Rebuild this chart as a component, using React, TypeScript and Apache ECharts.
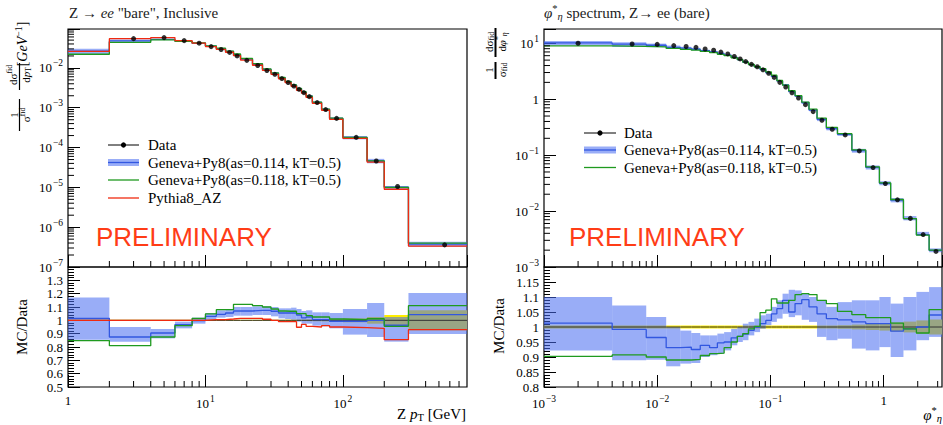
import React, { useEffect, useRef } from "react";
import * as echarts from "echarts";

const SERIF = "'Liberation Serif', 'DejaVu Serif', serif";
const SANS = "'Liberation Sans', Arial, sans-serif";

// ---------------- Left panel: Z pT ----------------
const ptEdges = [0, 2, 4, 6, 8, 10, 12, 14, 16, 18, 22, 26, 30, 34, 38, 42, 46, 50, 54, 60, 70, 80, 100, 150, 200, 300, 800];
const ptData = [0.026, 0.0544, 0.0577, 0.0485, 0.0418, 0.0343, 0.029, 0.0245, 0.02, 0.0155, 0.0115, 0.0086, 0.0069, 0.0054, 0.0043, 0.0035, 0.0029, 0.0024, 0.0019, 0.00135, 0.0009, 0.00054, 0.00018, 4.6e-5, 1.05e-5, 3.6e-7];
const ptRatio114 = [1.015, 0.875, 0.905, 0.968, 0.998, 1.03, 1.045, 1.055, 1.07, 1.07, 1.075, 1.075, 1.068, 1.055, 1.055, 1.055, 1.04, 1.018, 1.025, 1.005, 1.005, 0.993, 0.993, 1.0, 0.963, 1.043];
const ptBand114Lo = [0.855, 0.84, 0.865, 0.94, 0.975, 1.005, 1.02, 1.025, 1.035, 1.035, 1.04, 1.04, 1.03, 1.015, 1.01, 1.005, 0.99, 0.975, 0.975, 0.96, 0.955, 0.94, 0.893, 0.875, 0.84, 0.898];
const ptBand114Hi = [1.172, 0.95, 0.935, 0.99, 1.02, 1.055, 1.075, 1.085, 1.1, 1.1, 1.105, 1.105, 1.1, 1.09, 1.09, 1.095, 1.085, 1.07, 1.075, 1.06, 1.06, 1.055, 1.085, 1.13, 1.025, 1.205];
const ptRatio118 = [0.848, 0.81, 0.875, 0.96, 1.015, 1.048, 1.08, 1.08, 1.12, 1.12, 1.11, 1.1, 1.085, 1.07, 1.068, 1.068, 1.05, 1.05, 1.035, 1.025, 1.025, 1.01, 1.005, 1.012, 0.955, 1.11];
const ptRatioAZ = [1.0, 1.0, 1.0, 1.0, 1.0, 1.005, 1.005, 1.01, 1.015, 1.015, 1.015, 1.008, 1.0, 0.99, 0.99, 0.99, 0.948, 0.97, 0.955, 0.95, 0.96, 0.95, 0.945, 0.94, 0.855, 0.93];
const ptDataErr = [0.004, 0.004, 0.004, 0.004, 0.004, 0.004, 0.004, 0.004, 0.004, 0.004, 0.004, 0.004, 0.004, 0.004, 0.005, 0.005, 0.005, 0.005, 0.006, 0.007, 0.008, 0.01, 0.015, 0.025, 0.04, 0.075];

// ---------------- Right panel: phi*_eta ----------------
const phiEdges = [0, 0.004, 0.008, 0.012, 0.016, 0.02, 0.024, 0.029, 0.034, 0.039, 0.045, 0.051, 0.057, 0.064, 0.072, 0.081, 0.091, 0.102, 0.114, 0.128, 0.145, 0.165, 0.189, 0.219, 0.258, 0.312, 0.391, 0.524, 0.695, 0.918, 1.153, 1.496, 1.947, 2.522, 3.277];
const phiData = [10.0, 9.7, 9.55, 9.1, 8.75, 8.45, 7.9, 7.5, 6.95, 6.45, 5.8, 5.25, 4.7, 4.2, 3.8, 3.35, 2.9, 2.45, 2.0, 1.65, 1.3, 1.05, 0.8, 0.6, 0.42, 0.29, 0.23, 0.119, 0.06, 0.031, 0.0159, 0.0074, 0.0038, 0.0019];
const phiRatio114 = [1.013, 0.992, 0.965, 0.931, 0.933, 0.925, 0.939, 0.931, 0.947, 0.95, 0.964, 0.969, 0.976, 0.989, 1.0, 1.011, 1.022, 1.044, 1.061, 1.089, 1.05, 1.078, 1.091, 1.067, 1.044, 1.028, 1.024, 1.017, 1.011, 1.011, 0.986, 0.994, 1.0, 1.04];
const phiBand114Lo = [0.922, 0.889, 0.891, 0.869, 0.878, 0.88, 0.9, 0.906, 0.911, 0.922, 0.939, 0.95, 0.956, 0.972, 0.983, 0.994, 1.006, 1.017, 1.028, 1.044, 1.033, 1.039, 1.024, 1.017, 0.967, 0.956, 0.961, 0.928, 0.922, 0.933, 0.9, 0.922, 0.956, 0.967];
const phiBand114Hi = [1.1, 1.072, 1.033, 1.0, 0.988, 0.98, 0.972, 0.972, 0.978, 0.983, 0.994, 1.0, 1.011, 1.017, 1.028, 1.039, 1.044, 1.067, 1.089, 1.111, 1.124, 1.122, 1.111, 1.1, 1.089, 1.067, 1.083, 1.089, 1.089, 1.1, 1.078, 1.1, 1.117, 1.133];
const phiRatio118 = [0.902, 0.907, 0.9, 0.89, 0.89, 0.892, 0.905, 0.911, 0.913, 0.931, 0.95, 0.969, 0.978, 0.994, 1.002, 1.048, 1.056, 1.094, 1.08, 1.08, 1.089, 1.108, 1.111, 1.108, 1.089, 1.078, 1.052, 1.041, 1.031, 1.031, 1.013, 0.994, 0.98, 1.058];
const phiDataErr = [0.005, 0.005, 0.005, 0.005, 0.005, 0.005, 0.005, 0.005, 0.005, 0.005, 0.005, 0.005, 0.005, 0.005, 0.005, 0.005, 0.005, 0.005, 0.005, 0.005, 0.005, 0.005, 0.005, 0.005, 0.005, 0.005, 0.006, 0.008, 0.01, 0.012, 0.015, 0.018, 0.022, 0.025];

// ---------------- styling ----------------
const BLUE = "#3257e0";
const GREEN = "#1f9a1f";
const RED = "#f02a10";
const BAND = "rgba(70,105,240,0.55)";
const YELLOW = "#ffee00";
const PRELIM = "#ff3c16";

const PT_X = [1, 800];
const PT_Y = [1e-7, 0.095];
const PHI_X = [0.001, 3.277];
const PHI_Y = [1e-3, 18];

function steps(edges: number[], vals: number[], xmin: number) {
  const out: number[][] = [];
  for (let i = 0; i < vals.length; i++) {
    out.push([Math.max(edges[i], xmin), vals[i]]);
    out.push([edges[i + 1], vals[i]]);
  }
  return out;
}

function bandRows(edges: number[], lo: number[], hi: number[], xmin: number) {
  return lo.map((l, i) => [Math.max(edges[i], xmin), edges[i + 1], l, hi[i]]);
}

function fmtLog(v: number) {
  const l = Math.log10(v);
  const e = Math.round(l);
  if (Math.abs(l - e) > 1e-6) return "";
  if (e === 0) return "1";
  return "{b|10}{s|" + (e < 0 ? "−" : "") + Math.abs(e) + "}";
}

const logRich = {
  b: { fontSize: 13, fontFamily: SERIF, color: "#000" },
  s: { fontSize: 9.5, fontFamily: SERIF, color: "#000", padding: [0, 0, 9, 1] },
};

function bandSeries(xi: number, yi: number, rows: number[][], fill: string) {
  return {
    type: "custom",
    xAxisIndex: xi,
    yAxisIndex: yi,
    silent: true,
    data: rows,
    encode: { x: [0, 1], y: [2, 3] },
    renderItem: (params: any, api: any) => {
      const a = api.coord([api.value(0), api.value(3)]);
      const b = api.coord([api.value(1), api.value(2)]);
      const cs = params.coordSys;
      const shape = echarts.graphic.clipRectByRect(
        { x: a[0], y: a[1], width: b[0] - a[0], height: b[1] - a[1] },
        { x: cs.x, y: cs.y, width: cs.width, height: cs.height }
      );
      return shape ? { type: "rect", shape, style: { fill } } : null;
    },
  };
}

function lineSeries(xi: number, yi: number, data: number[][], color: string, width = 1.3) {
  return {
    type: "line",
    xAxisIndex: xi,
    yAxisIndex: yi,
    data,
    silent: true,
    showSymbol: false,
    symbol: "none",
    lineStyle: { color, width },
    itemStyle: { color },
  };
}

function logMinor(min: number, max: number) {
  const out: number[] = [];
  for (let d = Math.floor(Math.log10(min)); d <= Math.ceil(Math.log10(max)); d++) {
    for (let m = 2; m <= 9; m++) {
      const v = m * Math.pow(10, d);
      if (v > min * 1.0001 && v < max * 0.9999) out.push(v);
    }
  }
  return out;
}

function minorTickSeries(xi: number, yi: number, xr: number[], yr: number[], yLog: boolean) {
  const xs = logMinor(xr[0], xr[1]);
  const ys = yLog ? logMinor(yr[0], yr[1]) : [];
  return {
    type: "custom",
    xAxisIndex: xi,
    yAxisIndex: yi,
    silent: true,
    z: 5,
    data: [[xr[0], yr[0]]],
    renderItem: (params: any, api: any) => {
      const children: any[] = [];
      xs.forEach((x) => {
        const p = api.coord([x, yr[0]]);
        children.push({ type: "line", shape: { x1: p[0], y1: p[1], x2: p[0], y2: p[1] - 6 }, style: { stroke: "#000", lineWidth: 1 } });
      });
      ys.forEach((y) => {
        const p = api.coord([xr[0], y]);
        children.push({ type: "line", shape: { x1: p[0], y1: p[1], x2: p[0] + 6, y2: p[1] }, style: { stroke: "#000", lineWidth: 1 } });
      });
      return { type: "group", children };
    },
  };
}

function centers(edges: number[], vals: number[], xmin: number) {
  const out: number[][] = [];
  vals.forEach((v, i) => {
    const c = (edges[i] + edges[i + 1]) / 2;
    if (c > xmin * 1.0001) out.push([c, v]);
  });
  return out;
}

function buildOption() {
  const grids = [
    { left: 68, top: 29, width: 399, height: 238 },
    { left: 68, top: 267, width: 399, height: 120 },
    { left: 544, top: 29, width: 398, height: 238 },
    { left: 544, top: 267, width: 398, height: 120 },
  ].map((g) => ({ ...g, show: true, borderColor: "#000", borderWidth: 1.2, backgroundColor: "transparent", containLabel: false, outerBoundsMode: "none" }));

  const tick = { show: true, inside: true, length: 12, lineStyle: { color: "#000", width: 1 } };
  const minor = { show: true, splitNumber: 5, length: 6, lineStyle: { color: "#000", width: 1 } };

  const logX = (gi: number, r: number[], labels: boolean) => ({
    gridIndex: gi,
    type: "log",
    logBase: 10,
    min: r[0],
    max: r[1],
    axisLine: { show: false },
    axisTick: tick,
    splitLine: { show: false },
    axisLabel: labels
      ? { show: true, formatter: fmtLog, rich: logRich, margin: 7, color: "#000", fontFamily: SERIF, fontSize: 13, showMaxLabel: false }
      : { show: false },
  });

  const logY = (gi: number, r: number[]) => ({
    gridIndex: gi,
    type: "log",
    logBase: 10,
    min: r[0],
    max: r[1],
    axisLine: { show: false },
    axisTick: tick,
    splitLine: { show: false },
    axisLabel: { show: true, formatter: fmtLog, rich: logRich, margin: 5, color: "#000", fontFamily: SERIF, fontSize: 13 },
  });

  const linY = (gi: number, min: number, max: number, interval: number) => ({
    gridIndex: gi,
    type: "value",
    min,
    max,
    interval,
    axisLine: { show: false },
    axisTick: tick,
    minorTick: minor,
    splitLine: { show: false },
    minorSplitLine: { show: false },
    axisLabel: {
      show: true,
      margin: 5,
      color: "#000",
      fontFamily: SERIF,
      fontSize: 13,
      formatter: (v: number) => (v > max - interval / 2 ? "" : String(parseFloat(v.toFixed(3)))),
    },
  });

  const ptMC114 = ptData.map((d, i) => d * ptRatio114[i]);
  const ptMC118 = ptData.map((d, i) => d * ptRatio118[i]);
  const ptMCAZ = ptData.map((d, i) => d * ptRatioAZ[i]);
  const ptBandMainLo = ptData.map((d, i) => d * ptBand114Lo[i]);
  const ptBandMainHi = ptData.map((d, i) => d * ptBand114Hi[i]);

  const phiMC114 = phiData.map((d, i) => d * phiRatio114[i]);
  const phiMC118 = phiData.map((d, i) => d * phiRatio118[i]);
  const phiBandMainLo = phiData.map((d, i) => d * phiBand114Lo[i]);
  const phiBandMainHi = phiData.map((d, i) => d * phiBand114Hi[i]);

  const ones = (n: number) => new Array(n).fill(1);

  const series: any[] = [
    // ---- left main
    bandSeries(0, 0, bandRows(ptEdges, ptBandMainLo, ptBandMainHi, PT_X[0]), BAND),
    lineSeries(0, 0, steps(ptEdges, ptMC114, PT_X[0]), BLUE),
    lineSeries(0, 0, steps(ptEdges, ptMC118, PT_X[0]), GREEN),
    lineSeries(0, 0, steps(ptEdges, ptMCAZ, PT_X[0]), RED),
    {
      type: "scatter",
      xAxisIndex: 0,
      yAxisIndex: 0,
      silent: true,
      symbol: "circle",
      symbolSize: 5,
      itemStyle: { color: "#000" },
      data: centers(ptEdges, ptData, PT_X[0]),
      z: 4,
    },
    minorTickSeries(0, 0, PT_X, PT_Y, true),
    // ---- left ratio
    bandSeries(1, 1, bandRows(ptEdges, ptDataErr.map((e) => 1 - e), ptDataErr.map((e) => 1 + e), PT_X[0]), YELLOW),
    bandSeries(1, 1, bandRows(ptEdges, ptBand114Lo, ptBand114Hi, PT_X[0]), BAND),
    lineSeries(1, 1, steps(ptEdges, ones(ptData.length), PT_X[0]), "#333", 1),
    lineSeries(1, 1, steps(ptEdges, ptRatio114, PT_X[0]), BLUE),
    lineSeries(1, 1, steps(ptEdges, ptRatio118, PT_X[0]), GREEN),
    lineSeries(1, 1, steps(ptEdges, ptRatioAZ, PT_X[0]), RED),
    minorTickSeries(1, 1, PT_X, [0.5, 1.4], false),
    // ---- right main
    bandSeries(2, 2, bandRows(phiEdges, phiBandMainLo, phiBandMainHi, PHI_X[0]), BAND),
    lineSeries(2, 2, steps(phiEdges, phiMC114, PHI_X[0]), BLUE),
    lineSeries(2, 2, steps(phiEdges, phiMC118, PHI_X[0]), GREEN),
    {
      type: "scatter",
      xAxisIndex: 2,
      yAxisIndex: 2,
      silent: true,
      symbol: "circle",
      symbolSize: 5,
      itemStyle: { color: "#000" },
      data: centers(phiEdges, phiData, PHI_X[0]),
      z: 4,
    },
    minorTickSeries(2, 2, PHI_X, PHI_Y, true),
    // ---- right ratio
    bandSeries(3, 3, bandRows(phiEdges, phiDataErr.map((e) => 1 - e), phiDataErr.map((e) => 1 + e), PHI_X[0]), YELLOW),
    bandSeries(3, 3, bandRows(phiEdges, phiBand114Lo, phiBand114Hi, PHI_X[0]), BAND),
    lineSeries(3, 3, steps(phiEdges, ones(phiData.length), PHI_X[0]), "#333", 1),
    lineSeries(3, 3, steps(phiEdges, phiRatio114, PHI_X[0]), BLUE),
    lineSeries(3, 3, steps(phiEdges, phiRatio118, PHI_X[0]), GREEN),
    minorTickSeries(3, 3, PHI_X, [0.8, 1.2], false),
  ];

  const txt = (x: number, y: number, text: string, opts: any = {}) => ({
    type: "text",
    x,
    y,
    rotation: opts.rotation || 0,
    silent: true,
    style: {
      text,
      fill: opts.fill || "#000",
      fontFamily: opts.fontFamily || SERIF,
      fontSize: opts.fontSize || 15,
      align: opts.align || "left",
      verticalAlign: opts.verticalAlign || "middle",
      rich: opts.rich,
    },
  });
  const ln = (x1: number, y1: number, x2: number, y2: number, stroke: string, lineWidth = 1.3) => ({
    type: "line",
    silent: true,
    shape: { x1, y1, x2, y2 },
    style: { stroke, lineWidth },
  });

  const R90 = Math.PI / 2;
  const mathRich = (fs: number) => ({
    i: { fontStyle: "italic", fontFamily: SERIF, fontSize: fs, color: "#000" },
    s: { fontFamily: SERIF, fontSize: fs * 0.7, color: "#000", padding: [0, 0, fs * 0.55, 0] },
    si: { fontStyle: "italic", fontFamily: SERIF, fontSize: fs * 0.7, color: "#000", padding: [0, 0, fs * 0.55, 0] },
    u: { fontFamily: SERIF, fontSize: fs * 0.7, color: "#000", padding: [fs * 0.45, 0, 0, 0] },
    ui: { fontStyle: "italic", fontFamily: SERIF, fontSize: fs * 0.7, color: "#000", padding: [fs * 0.45, 0, 0, 0] },
  });

  const graphic: any[] = [
    // titles
    txt(69, 13, 'Z → {i|ee} "bare", Inclusive', { rich: mathRich(15), fill: "#222" }),
    txt(544, 13, "{i|φ}{s|*}{ui|η} spectrum, Z→ ee (bare)", { rich: mathRich(15), fill: "#222" }),

    // left legend
    ln(108, 145, 139, 145, "#000", 1),
    { type: "circle", silent: true, shape: { cx: 123.5, cy: 145, r: 2.6 }, style: { fill: "#000" } },
    txt(148, 145, "Data"),
    { type: "rect", silent: true, shape: { x: 108, y: 159, width: 31, height: 7 }, style: { fill: BAND } },
    ln(108, 162.5, 139, 162.5, BLUE, 1.3),
    txt(148, 162.5, "Geneva+Py8(as=0.114, kT=0.5)"),
    ln(108, 180, 139, 180, GREEN, 1.3),
    txt(148, 180, "Geneva+Py8(as=0.118, kT=0.5)"),
    ln(108, 198, 139, 198, RED, 1.3),
    txt(148, 198, "Pythia8_AZ"),

    // right legend
    ln(584, 133, 616, 133, "#000", 1),
    { type: "circle", silent: true, shape: { cx: 600, cy: 133, r: 2.6 }, style: { fill: "#000" } },
    txt(624, 133, "Data"),
    { type: "rect", silent: true, shape: { x: 584, y: 146.5, width: 32, height: 7 }, style: { fill: BAND } },
    ln(584, 150, 616, 150, BLUE, 1.3),
    txt(624, 150, "Geneva+Py8(as=0.114, kT=0.5)"),
    ln(584, 167.5, 616, 167.5, GREEN, 1.3),
    txt(624, 167.5, "Geneva+Py8(as=0.118, kT=0.5)"),

    // preliminary
    txt(96, 237, "PRELIMINARY", { fontFamily: SANS, fontSize: 26, fill: PRELIM }),
    txt(569, 237, "PRELIMINARY", { fontFamily: SANS, fontSize: 26, fill: PRELIM }),

    // left y title (rotated)
    txt(22, 44, "[{i|GeV}{s|−1}]", { rotation: R90, align: "center", fontSize: 14, rich: mathRich(14) }),
    txt(13, 75, "dσ{s|fid}", { rotation: R90, align: "center", fontSize: 11, rich: mathRich(11) }),
    ln(19.5, 63, 19.5, 90, "#000", 1.2),
    txt(26, 75, "d{i|p}{u|T}", { rotation: R90, align: "center", fontSize: 11, rich: mathRich(11) }),
    txt(13.5, 115, "1", { rotation: R90, align: "center", fontSize: 11 }),
    ln(19.5, 99, 19.5, 131, "#000", 1.2),
    txt(26, 115, "σ{s|fid}", { rotation: R90, align: "center", fontSize: 11, rich: mathRich(11) }),

    // right y title (rotated)
    txt(489, 42, "dσ{u|fid}", { rotation: R90, align: "center", fontSize: 11, rich: mathRich(11) }),
    ln(495.5, 28, 495.5, 57, "#000", 2),
    txt(502, 42, "d{i|φ}{s|*}{ui|η}", { rotation: R90, align: "center", fontSize: 11, rich: mathRich(11) }),
    txt(489, 70, "1", { rotation: R90, align: "center", fontSize: 11 }),
    ln(495.5, 62, 495.5, 79, "#000", 2),
    txt(502, 70, "σ{u|fid}", { rotation: R90, align: "center", fontSize: 11, rich: mathRich(11) }),

    // ratio titles
    txt(22, 327, "MC/Data", { rotation: R90, align: "center", fontSize: 15 }),
    txt(499, 326, "MC/Data", { rotation: R90, align: "center", fontSize: 15 }),

    // x titles
    txt(466, 414, "Z {i|p}{u|T} [GeV]", { align: "right", fontSize: 15, rich: mathRich(15) }),
    txt(942, 415, "{i|φ}{s|*}{ui|η}", { align: "right", fontSize: 15, rich: mathRich(15) }),
  ];

  return {
    animation: false,
    backgroundColor: "#fff",
    grid: grids,
    xAxis: [logX(0, PT_X, false), logX(1, PT_X, true), logX(2, PHI_X, false), logX(3, PHI_X, true)],
    yAxis: [logY(0, PT_Y), linY(1, 0.5, 1.4, 0.1), logY(2, PHI_Y), linY(3, 0.8, 1.2, 0.05)],
    series,
    graphic,
  };
}

export default function App() {
  const ref = useRef<HTMLDivElement>(null);
  useEffect(() => {
    if (!ref.current) return;
    const chart = echarts.init(ref.current, null, { renderer: "svg" });
    chart.setOption(buildOption() as any);
    return () => chart.dispose();
  }, []);
  return (
    <div
      ref={ref}
      style={{ position: "fixed", left: 0, top: 0, width: 943, height: 425, background: "#fff" }}
    />
  );
}
